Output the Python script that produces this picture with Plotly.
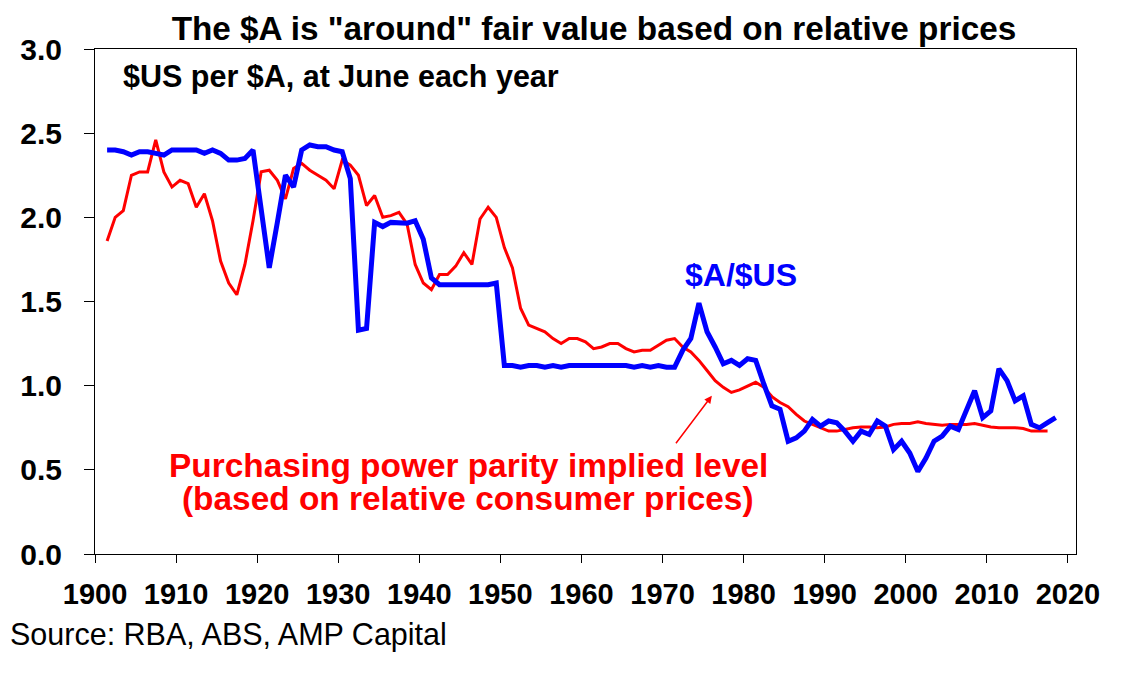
import plotly.graph_objects as go

# $US per $A, June of each year
years_aud = list(range(1901, 2019))
aud_usd = [
    2.40, 2.40, 2.39, 2.37, 2.39, 2.39, 2.38, 2.37, 2.40, 2.40,  # 1901-1910
    2.40, 2.40, 2.38, 2.40, 2.38, 2.34, 2.34, 2.35, 2.40, 2.05,  # 1911-1920
    1.70, 1.97, 2.25, 2.18, 2.40, 2.43, 2.42, 2.42, 2.40, 2.39,  # 1921-1930
    2.23, 1.33, 1.34, 1.97, 1.945, 1.97, 1.97, 1.965, 1.98, 1.87,  # 1931-1940
    1.64, 1.60, 1.60, 1.60, 1.60, 1.60, 1.60, 1.60, 1.61, 1.12,  # 1941-1950
    1.12, 1.11, 1.12, 1.12, 1.11, 1.12, 1.11, 1.12, 1.12, 1.12,  # 1951-1960
    1.12, 1.12, 1.12, 1.12, 1.12, 1.11, 1.12, 1.11, 1.12, 1.11,  # 1961-1970
    1.11, 1.21, 1.28, 1.49, 1.32, 1.23, 1.13, 1.15, 1.12, 1.16,  # 1971-1980
    1.15, 1.01, 0.88, 0.86, 0.67, 0.69, 0.73, 0.80, 0.76, 0.79,  # 1981-1990
    0.78, 0.73, 0.67, 0.73, 0.71, 0.79, 0.76, 0.62, 0.67, 0.60,  # 1991-2000
    0.49, 0.57, 0.67, 0.70, 0.76, 0.74, 0.86, 0.97, 0.81, 0.85,  # 2001-2010
    1.10, 1.03, 0.91, 0.94, 0.77, 0.75, 0.78, 0.81,              # 2011-2018
]

# purchasing power parity implied level
years_ppp = list(range(1901, 2018))
ppp = [
    1.86, 2.00, 2.04, 2.25, 2.27, 2.27, 2.46, 2.27, 2.18, 2.22,  # 1901-1910
    2.20, 2.06, 2.14, 1.98, 1.74, 1.61, 1.54, 1.72, 1.98, 2.27,  # 1911-1920
    2.28, 2.22, 2.11, 2.29, 2.32, 2.28, 2.25, 2.22, 2.17, 2.34,  # 1921-1930
    2.31, 2.25, 2.07, 2.13, 2.00, 2.01, 2.03, 1.96, 1.72, 1.61,  # 1931-1940
    1.57, 1.66, 1.66, 1.71, 1.79, 1.72, 1.99, 2.06, 2.00, 1.82,  # 1941-1950
    1.70, 1.46, 1.36, 1.34, 1.32, 1.28, 1.25, 1.28, 1.28, 1.26,  # 1951-1960
    1.22, 1.23, 1.25, 1.25, 1.22, 1.20, 1.21, 1.21, 1.24, 1.27,  # 1961-1970
    1.28, 1.23, 1.20, 1.15, 1.09, 1.03, 0.99, 0.96, 0.975, 1.00,  # 1971-1980
    1.02, 0.99, 0.935, 0.90, 0.875, 0.83, 0.79, 0.77, 0.75, 0.73,  # 1981-1990
    0.73, 0.74, 0.75, 0.755, 0.755, 0.75, 0.755, 0.77, 0.775, 0.775,  # 1991-2000
    0.785, 0.775, 0.77, 0.765, 0.77, 0.77, 0.77, 0.775, 0.765, 0.755,  # 2001-2010
    0.75, 0.75, 0.75, 0.745, 0.73, 0.73, 0.73,                    # 2011-2017
]

tick_years = list(range(1900, 2021, 10))

font_name = "Liberation Sans, Arial, sans-serif"

# June observation dates
dates_aud = [f"{y}-06-30" for y in years_aud]
dates_ppp = [f"{y}-06-30" for y in years_ppp]

fig = go.Figure()

fig.add_trace(go.Scatter(x=dates_ppp, y=ppp, mode="lines",
                         line=dict(color="#FF0000", width=3),
                         name="PPP"))
fig.add_trace(go.Scatter(x=dates_aud, y=aud_usd, mode="lines",
                         line=dict(color="#0000FF", width=5),
                         name="$A/$US"))

# labels on the chart
fig.add_annotation(x="1979-09-01", y=1.66, text="<b>$A/$US</b>", showarrow=False,
                   font=dict(family=font_name, size=32, color="#0000FF"))
fig.add_annotation(x="1946-02-06", y=0.527, text="<b>Purchasing power parity implied level</b>",
                   showarrow=False, font=dict(family=font_name, size=33.4, color="#FF0000"))
fig.add_annotation(x="1946-01-01", y=0.328, text="<b>(based on relative consumer prices)</b>",
                   showarrow=False, font=dict(family=font_name, size=33.4, color="#FF0000"))
fig.add_annotation(x="1976-02-01", y=0.94, text="", showarrow=True,
                   ax=-37, ay=49, arrowhead=2, arrowsize=1, arrowwidth=1.5,
                   arrowcolor="#FF0000", standoff=0)

fig.add_annotation(xref="paper", yref="paper", x=0.0265, y=0.9465,
                   xanchor="left", yanchor="middle", showarrow=False,
                   text="<b>$US per $A, at June each year</b>",
                   font=dict(family=font_name, size=30.5, color="black"))
fig.add_annotation(xref="paper", yref="paper", x=-0.0887, y=-0.16,
                   xanchor="left", yanchor="middle", showarrow=False,
                   text="Source: RBA, ABS, AMP Capital",
                   font=dict(family=font_name, size=30.5, color="black"))

# page adds an 8px body margin, so the figure is 8px smaller than the window
fig.update_layout(
    width=1129, height=677,
    margin=dict(l=87, r=61, t=41, b=131),
    paper_bgcolor="white", plot_bgcolor="white",
    showlegend=False,
    title=dict(text='<b>The $A is "around" fair value based on relative prices</b>',
               x=0.519, xanchor="center", y=0.9705, yanchor="middle",
               font=dict(family=font_name, size=33.3, color="black")),
)

fig.update_xaxes(
    type="date",
    range=["1900-01-01", "2021-01-01"],
    tickvals=[f"{y}-01-01" for y in tick_years],
    ticktext=[f"<b>{y}</b>" for y in tick_years],
    ticks="outside", ticklen=8, tickcolor="black",
    showline=True, linecolor="black", linewidth=1, mirror=True,
    showgrid=False, zeroline=False,
    tickfont=dict(family=font_name, size=29, color="black"),
    ticklabelstandoff=6,
)
fig.update_yaxes(
    range=[0, 3],
    tickvals=[0, 0.5, 1.0, 1.5, 2.0, 2.5, 3.0],
    ticktext=["<b>0.0</b>", "<b>0.5</b>", "<b>1.0</b>", "<b>1.5</b>",
              "<b>2.0</b>", "<b>2.5</b>", "<b>3.0</b>"],
    ticks="outside", ticklen=10, tickcolor="black",
    showline=True, linecolor="black", linewidth=1, mirror=True,
    showgrid=False, zeroline=False,
    tickfont=dict(family=font_name, size=30, color="black"),
    ticklabelstandoff=16,
)

fig.write_html("out.html")
